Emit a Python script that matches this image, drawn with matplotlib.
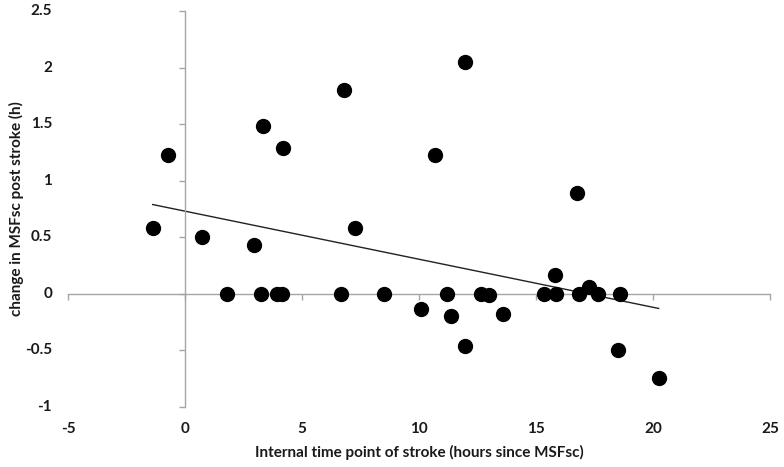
import numpy as np
import matplotlib
matplotlib.use("Agg")
import matplotlib.pyplot as plt
import matplotlib.transforms as mtransforms

# internal time point of stroke (h since MSFsc) vs change in MSFsc post stroke (h)
x_time = [-1.38, -0.71, 0.74, 1.78, 2.96, 3.25, 3.35, 3.92, 4.13, 4.20,
          6.65, 6.79, 7.26, 8.50, 10.07, 10.68, 11.18, 11.37, 11.97, 11.98,
          12.64, 13.00, 13.58, 15.34, 15.81, 15.84, 16.75, 16.85, 17.26, 17.66,
          18.49, 18.59, 20.24]
y_change = [0.58, 1.23, 0.50, 0.0, 0.43, 0.0, 1.48, 0.0, 0.0, 1.29,
            0.0, 1.80, 0.58, 0.0, -0.13, 1.23, 0.0, -0.20, -0.46, 2.05,
            0.0, -0.01, -0.18, 0.0, 0.17, 0.0, 0.89, 0.0, 0.06, 0.0,
            -0.50, 0.0, -0.74]

xticks = [-5, 0, 5, 10, 15, 20, 25]
yticks = [-1, -0.5, 0, 0.5, 1, 1.5, 2, 2.5]
ytick_labels = ["-1", "-0.5", "0", "0.5", "1", "1.5", "2", "2.5"]

plt.rcParams["font.family"] = ["Lato", "DejaVu Sans"]

fig = plt.figure(figsize=(7.84, 4.67), dpi=100)
ax = fig.add_axes([68 / 784, 60 / 467, 702 / 784, 396 / 467])
ax.set_xlim(-5, 25)
ax.set_ylim(-1, 2.5)

grey = "#a6a6a6"
for side in ("top", "right"):
    ax.spines[side].set_visible(False)
ax.spines["left"].set_position(("data", 0))
ax.spines["bottom"].set_position(("data", 0))
for side in ("left", "bottom"):
    ax.spines[side].set_color(grey)
    ax.spines[side].set_linewidth(1.0)
    ax.spines[side].set_clip_on(False)
ax.set_xticks(xticks)
ax.set_yticks(yticks)
ax.tick_params(direction="out", length=4, width=1.0, color=grey,
               labelbottom=False, labelleft=False)

# tick labels at the frame edges, Excel style
tx = mtransforms.blended_transform_factory(ax.transData, ax.transAxes)
ty = mtransforms.blended_transform_factory(ax.transAxes, ax.transData)
for t in xticks:
    ax.text(t, -22 / 396, str(t), transform=tx, ha="center", va="center",
            fontsize=11, fontweight="bold", color="#1a1a1a")
for t, lab in zip(yticks, ytick_labels):
    ax.text(-16 / 702, t, lab, transform=ty, ha="right", va="center",
            fontsize=11, fontweight="bold", color="#1a1a1a")

ax.scatter(x_time, y_change, s=100, color="black", zorder=3, clip_on=False)

# linear trendline over the data range
slope, icpt = np.polyfit(x_time, y_change, 1)
xs = np.array([min(x_time), max(x_time)])
ax.plot(xs, slope * xs + icpt, color="#222222", linewidth=1.0, zorder=2)

fig.text(419 / 784, 1 - 452 / 467, "Internal time point of stroke (hours since MSFsc)",
         ha="center", va="center", fontsize=11, fontweight="bold", color="#1a1a1a")
fig.text(16 / 784, 1 - 209 / 467, "change in MSFsc post stroke (h)", rotation=90,
         ha="center", va="center", fontsize=11, fontweight="bold", color="#1a1a1a")

fig.savefig("out.png", dpi=100)
